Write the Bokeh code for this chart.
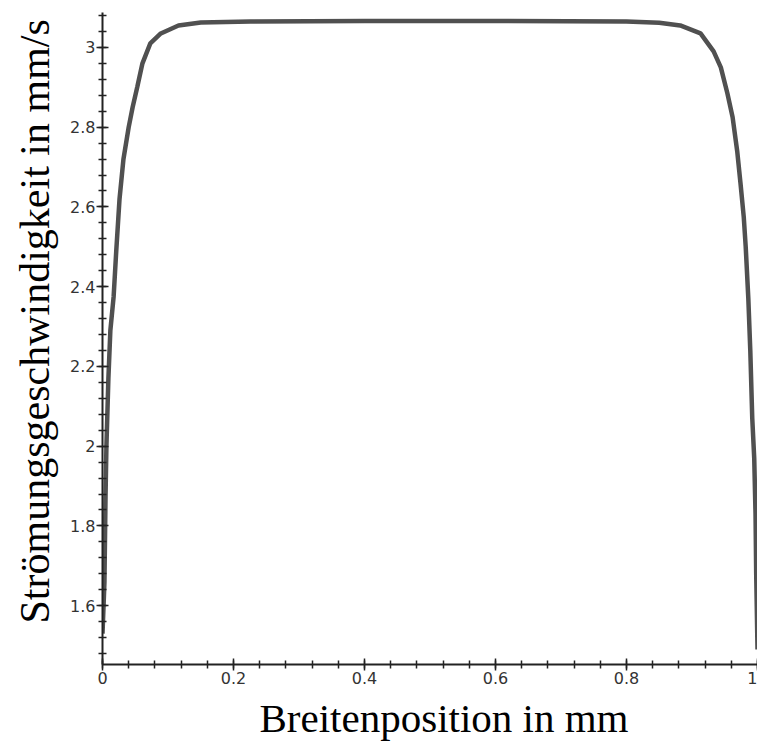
from bokeh.plotting import figure
from bokeh.embed import file_html
from bokeh.resources import INLINE
from bokeh.models import FixedTicker, Range1d, Title

# Data
x_mm = [0.0, 0.003, 0.0046, 0.006, 0.009, 0.012, 0.017, 0.021, 0.026, 0.032,
        0.040, 0.046, 0.053, 0.061, 0.073, 0.089, 0.116, 0.15, 0.226, 0.4,
        0.6, 0.8, 0.85, 0.882, 0.913, 0.933, 0.944, 0.954, 0.962, 0.969,
        0.974, 0.979, 0.982, 0.986, 0.989, 0.992, 0.995, 0.997, 0.998, 1.0]
v_mms = [1.53, 1.66, 1.87, 2.0, 2.17, 2.29, 2.375, 2.49, 2.62, 2.72,
         2.80, 2.85, 2.90, 2.96, 3.01, 3.035, 3.055, 3.0625, 3.065, 3.066,
         3.066, 3.065, 3.062, 3.055, 3.035, 2.99, 2.95, 2.885, 2.825, 2.74,
         2.66, 2.575, 2.5, 2.37, 2.24, 2.07, 1.97, 1.83, 1.68, 1.49]

x_ticks = [0, 0.2, 0.4, 0.6, 0.8, 1.0]
y_ticks = [1.6, 1.8, 2.0, 2.2, 2.4, 2.6, 2.8, 3.0]
x_minor = [round(i * 0.04, 2) for i in range(0, 26)]
y_minor = [round(1.44 + i * 0.04, 2) for i in range(0, 42)]
x_labels = {0: "0", 0.2: "0.2", 0.4: "0.4", 0.6: "0.6", 0.8: "0.8", 1: "1"}
y_labels = {1.6: "1.6", 1.8: "1.8", 2: "2", 2.2: "2.2", 2.4: "2.4",
            2.6: "2.6", 2.8: "2.8", 3: "3"}
x_title = "Breitenposition in mm"
y_title = "Strömungsgeschwindigkeit in mm/s"

p = figure(width=757, height=746, output_backend="svg", toolbar_location=None,
           x_range=Range1d(0, 1.0), y_range=Range1d(1.4525, 3.0875),
           min_border_left=102, min_border_right=0, min_border_top=12,
           min_border_bottom=80)
p.outline_line_color = None
p.grid.visible = False
p.background_fill_color = "white"

p.line(x_mm, v_mms, line_color="#505050", line_width=4.5)

for ax, ticks, minor, labels in ((p.xaxis[0], x_ticks, x_minor, x_labels),
                                 (p.yaxis[0], y_ticks, y_minor, y_labels)):
    ax.ticker = FixedTicker(ticks=ticks, minor_ticks=minor)
    ax.major_label_overrides = labels
    ax.axis_line_color = "#222222"
    ax.axis_line_width = 2
    ax.major_tick_line_color = "#222222"
    ax.major_tick_line_width = 1.5
    ax.minor_tick_line_color = "#222222"
    ax.minor_tick_line_width = 1.5
    ax.major_tick_in = 6
    ax.major_tick_out = 6
    ax.minor_tick_in = 4
    ax.minor_tick_out = 4
    ax.major_label_text_font = "DejaVu Sans"
    ax.major_label_text_font_size = "16px"
    ax.major_label_text_color = "#333333"
    ax.major_label_standoff = 1

p.add_layout(Title(text=x_title, align="left", offset=157,
                   text_font="Liberation Serif", text_font_size="41px",
                   text_font_style="normal", text_color="black",
                   standoff=12), "below")
p.add_layout(Title(text=y_title, align="left", offset=41,
                   text_font="Liberation Serif", text_font_size="42px",
                   text_font_style="normal", text_color="black",
                   standoff=19), "left")

open("out.html", "w").write(file_html(p, INLINE))
